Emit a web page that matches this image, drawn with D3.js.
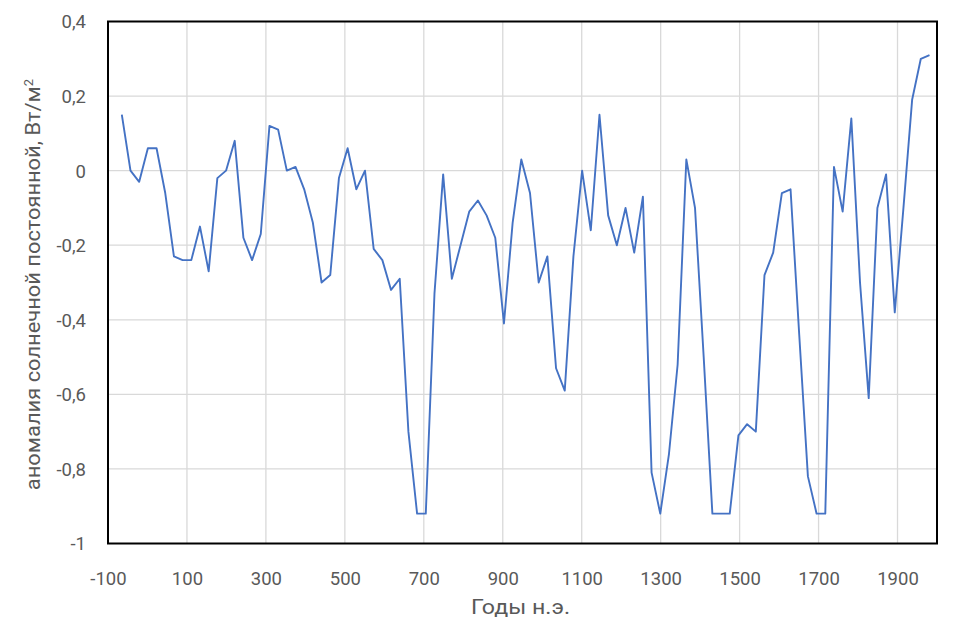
<!DOCTYPE html>
<html>
<head>
<meta charset="utf-8">
<script src="https://cdn.jsdelivr.net/npm/d3@7"></script>
<style>
  html, body { margin: 0; padding: 0; background: #fff; }
  svg { display: block; }
  text { font-family: Roboto, "Noto Sans", sans-serif; fill: #595959; }
</style>
</head>
<body>
<svg id="chart" width="953" height="627"></svg>
<script>
// ---- data ----
const years = [
  -65, -43, -21, 1, 23, 45, 67, 89, 111, 133,
  155, 177, 199, 221, 243, 265, 287, 309, 331, 353,
  375, 397, 419, 441, 463, 485, 507, 529, 551, 573,
  595, 617, 639, 661, 683, 705, 727, 749, 771, 793,
  815, 837, 859, 881, 903, 925, 947, 969, 991, 1013,
  1035, 1057, 1079, 1101, 1123, 1145, 1167, 1189, 1211, 1233,
  1255, 1277, 1299, 1321, 1343, 1365, 1387, 1409, 1431, 1453,
  1475, 1497, 1519, 1541, 1563, 1585, 1607, 1629, 1651, 1673,
  1695, 1717, 1739, 1761, 1783, 1805, 1827, 1849, 1871, 1893,
  1915, 1937, 1959, 1981
];
const anomaly = [
  0.15, 0, -0.03, 0.06, 0.06, -0.06, -0.23, -0.24, -0.24, -0.15,
  -0.27, -0.02, 0, 0.08, -0.18, -0.24, -0.17, 0.12, 0.11, 0,
  0.01, -0.05, -0.14, -0.30, -0.28, -0.02, 0.06, -0.05, 0, -0.21,
  -0.24, -0.32, -0.29, -0.70, -0.92, -0.92, -0.33, -0.01, -0.29, -0.20,
  -0.11, -0.08, -0.12, -0.18, -0.41, -0.14, 0.03, -0.06, -0.30, -0.23,
  -0.53, -0.59, -0.23, 0, -0.16, 0.15, -0.12, -0.20, -0.10, -0.22,
  -0.07, -0.81, -0.92, -0.76, -0.52, 0.03, -0.10, -0.50, -0.92, -0.92,
  -0.92, -0.71, -0.68, -0.70, -0.28, -0.22, -0.06, -0.05, -0.44, -0.82,
  -0.92, -0.92, 0.01, -0.11, 0.14, -0.30, -0.61, -0.10, -0.01, -0.38,
  -0.10, 0.19, 0.30, 0.31
];
const xTicks = [-100, 100, 300, 500, 700, 900, 1100, 1300, 1500, 1700, 1900];
const yTicks = [-1, -0.8, -0.6, -0.4, -0.2, 0, 0.2, 0.4];
const xDomain = [-100, 2000];
const yDomain = [-1, 0.4];
const xTitle = "Годы н.э.";
const yTitle = "аномалия солнечной постоянной, Вт/м";

// ---- layout ----
const svg = d3.select("#chart");
const L = 108, R = 937, T = 21.5, B = 543.5;

const x = d3.scaleLinear().domain(xDomain).range([L, R]);
const y = d3.scaleLinear().domain(yDomain).range([B, T]);

const fmt = v => {
  const s = (Math.round(v * 10) / 10).toString();
  return s.replace(".", ",");
};

// gridlines
const grid = svg.append("g");
grid.selectAll("line.vg").data(xTicks.slice(1)).join("line")
  .attr("x1", d => x(d)).attr("x2", d => x(d))
  .attr("y1", T).attr("y2", B)
  .attr("stroke", "#d9d9d9").attr("stroke-width", 1.3);
grid.selectAll("line.hg").data(yTicks.slice(1, -1)).join("line")
  .attr("x1", L).attr("x2", R)
  .attr("y1", d => y(d)).attr("y2", d => y(d))
  .attr("stroke", "#d9d9d9").attr("stroke-width", 1.3);

// axes (labels only)
const xAxis = d3.axisBottom(x).tickValues(xTicks).tickSize(0).tickPadding(0).tickFormat(d => String(d));
const gx = svg.append("g").attr("transform", `translate(0,${B})`).call(xAxis);
gx.select(".domain").remove();
gx.selectAll("text").attr("dy", null).attr("y", 41)
  .style("font-size", "18.5px").attr("fill", "#595959");

const yAxis = d3.axisLeft(y).tickValues(yTicks).tickSize(0).tickPadding(0).tickFormat(fmt);
const gy = svg.append("g").attr("transform", `translate(${L},0)`).call(yAxis);
gy.select(".domain").remove();
gy.selectAll("text").attr("x", -22).attr("dy", "0.35em")
  .style("font-size", "18.5px").attr("fill", "#595959");

// line
const line = d3.line().x((d, i) => x(years[i])).y(d => y(d));
svg.append("path").datum(anomaly)
  .attr("d", line)
  .attr("fill", "none")
  .attr("stroke", "#4472C4")
  .attr("stroke-width", 1.9)
  .attr("stroke-linejoin", "round");

// plot border
svg.append("rect")
  .attr("x", L).attr("y", T).attr("width", R - L).attr("height", B - T)
  .attr("fill", "none").attr("stroke", "#000").attr("stroke-width", 2);

// titles
svg.append("text")
  .attr("x", (L + R) / 2 - 2).attr("y", 614)
  .attr("text-anchor", "middle")
  .attr("textLength", 99).attr("lengthAdjust", "spacingAndGlyphs")
  .style("font-size", "20px")
  .text(xTitle);

const yt = svg.append("text")
  .attr("transform", `translate(40,${(T + B) / 2 + 2}) rotate(-90)`)
  .attr("text-anchor", "middle")
  .style("font-size", "20px");
yt.append("tspan").attr("textLength", 404).attr("lengthAdjust", "spacingAndGlyphs").text(yTitle);
yt.append("tspan").attr("baseline-shift", "super").style("font-size", "13px").text("2");
</script>
</body>
</html>
